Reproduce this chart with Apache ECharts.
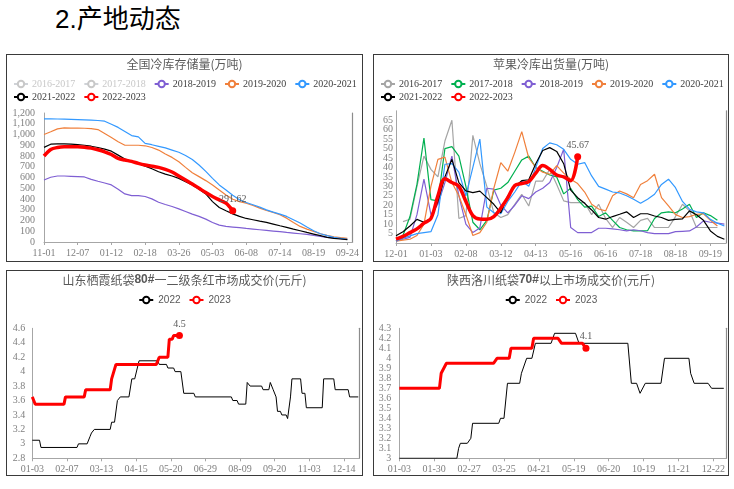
<!DOCTYPE html>
<html><head><meta charset="utf-8">
<script src="https://cdn.jsdelivr.net/npm/echarts@6/dist/echarts.min.js"></script>
<style>
html,body{margin:0;padding:0;background:#fff}
body{width:734px;height:489px;position:relative;overflow:hidden}
#h{position:absolute;left:55px;top:6px;font-size:26px;line-height:26px;font-family:"Liberation Sans","Noto Sans CJK SC",sans-serif;color:#000;white-space:nowrap}
.p{position:absolute;border:1px solid #3a3a3a;box-sizing:border-box;background:#fff}
.c{position:absolute;left:0;top:0}
</style></head><body>
<div id="h">2.产地动态</div>
<div class="p" style="left:6px;top:54px;width:357px;height:208px"><div class="c" id="c1" style="width:355px;height:206px"></div></div>
<div class="p" style="left:373px;top:54px;width:356px;height:208px"><div class="c" id="c2" style="width:354px;height:206px"></div></div>
<div class="p" style="left:6px;top:270px;width:357px;height:206px"><div class="c" id="c3" style="width:355px;height:204px"></div></div>
<div class="p" style="left:373px;top:270px;width:356px;height:206px"><div class="c" id="c4" style="width:354px;height:204px"></div></div>
<script>
// ---------- Panel 1: 全国冷库存储量 (weekly index, 5 per tick label) ----------
const P1_TICKS = ['11-01','12-07','01-12','02-18','03-26','05-03','06-08','07-14','08-19','09-24'];
const P1_1617 = [];
const P1_1718 = [];
const P1_1819 = [577,602,614,614,611,608,605,583,565,549,531,491,447,432,432,423,401,370,349,330,308,284,259,238,213,182,157,145,139,133,126,120,114,108,102,96,89,83,77,71,62,52,43,37,31,25];
const P1_1920 = [1000,1025,1052,1061,1060,1059,1058,1055,1046,1009,972,932,900,900,900,895,879,855,818,787,746,694,645,608,571,531,484,438,398,376,361,339,315,293,275,253,222,182,145,120,99,77,62,49,40,34];
const P1_2021 = [1145,1145,1144,1143,1141,1139,1136,1133,1130,1124,1095,1066,1028,990,978,918,905,890,875,855,835,805,768,716,657,592,531,484,435,392,367,346,324,299,278,259,238,207,176,139,105,77,59,43,34,25];
const P1_2122 = [880,910,913,912,910,905,900,891,879,864,845,808,771,750,731,706,682,654,632,614,592,561,531,491,447,376,321,290,262,238,219,207,194,182,167,151,136,120,105,89,74,59,43,34,28,22];
const P1_2223 = [800,861,879,885,885,885,882,873,858,839,814,777,762,750,731,716,706,694,676,651,614,577,540,500,460,423,392,361,291.62];

// ---------- Panel 2: 苹果冷库出货量 (weekly index, 5 per tick label) ----------
const P2_TICKS = ['12-01','01-03','02-08','03-12','04-13','05-16','06-16','07-18','08-18','09-19'];
const P2_1617 = [null,11.3,12.6,30,46,39,35,54,65,13,14.5,57,42,30,16,13.5,15,20.5,25.8,19.6,32.8,32.8,39,31,22.3,21.4,21.4,21.4,15,20.5,13,8.2,13.5,11,8.2,12,13,8.2,8.2,8.2,14,20.5,17,8.2,8.2,8.2,8.2,null];
const P2_1718 = [1,4,14,31,55.5,23,22.3,50,51,46,30,11,7,12,28,29,32,38,44,46,40,38,36,35,26,29,23,19,19.5,14,16,12,8.2,7,6.4,6.4,6.5,13,16,16.5,16,18,20.5,13.5,16,14.5,12,null];
const P2_1819 = [1,2,3,15,33.8,15,20.5,32,46,25,10,5.5,8,29,28.5,20,16,20,25,23.5,27,29,32,40,49.6,8.2,5.5,5.5,5.5,7.8,7.8,7.5,7,6.4,7,6.5,5.5,5,5,5,6,6.2,6.4,8.5,11.7,11,10.5,10];
const P2_1920 = [1,1.5,2,4,10,30,44.3,45.5,32,25,15,4,5.5,11,29,42.6,38,48,59,45,40,37.5,36.4,41,37,33.8,31.5,27,20.5,18,17,25,27.5,26,24,31,33,36.4,24,19.6,15,13.5,14,15.2,15.5,12,9,null];
const P2_2021 = [1,2.5,3.8,5,5.5,6,15,41.7,42,37.5,25,40,55,19,16,15.5,22,27,32.8,30,40,50,53,52,49.6,44.3,41.7,42.6,35.5,30,28.5,27,26.5,25,23.2,21,23.2,25.8,31,33.8,29.3,22,17.9,16.5,16,12.5,10.5,9];
const P2_2122 = [3.8,6,9,12.5,11,13,22,35,44.3,32,27.6,26.7,27.5,24,20.5,16,25,30,33,33.5,42,49,50.5,48.5,42,28,24,21,17.5,13.5,12.6,14,15.2,16.5,13.5,15.5,15.5,14.3,13.5,12,12.5,12.8,17,15,12,6.4,3.5,2];
const P2_2223 = [2,3.5,5.5,7.5,10.5,13,25,34,32,30,22,14.5,12.7,12.6,14,18.5,24,30.5,31.5,32.5,37,41,39,36,35,33,45.67];

// ---------- Panel 3: 山东栖霞 (trading-day index, 24 per tick label) ----------
const P3_TICKS = ['01-03','02-07','03-13','04-15','05-20','06-29','08-09','09-20','11-03','12-14'];
const P3_2022 = [[0,3.05],[5,3.05],[6,2.95],[31,2.95],[32,3.0],[38,3.0],[40,3.1],[41,3.15],[43,3.2],[54,3.2],[55,3.3],[57,3.3],[59,3.6],[60,3.6],[61,3.65],[67,3.65],[69,3.9],[71,3.9],[74,4.15],[87,4.15],[88,4.1],[93,4.1],[94,4.05],[98,4.05],[99,4.0],[103,4.0],[105,3.7],[112,3.7],[113,3.65],[138,3.65],[139,3.6],[142,3.6],[143,3.55],[148,3.55],[149,3.85],[150,3.85],[151,3.8],[159,3.8],[160,3.75],[164,3.75],[165,3.85],[166,3.85],[167,3.75],[169,3.65],[170,3.45],[172,3.45],[173,3.4],[176,3.4],[177,3.35],[179,3.65],[180,3.9],[186,3.9],[187,3.7],[189,3.7],[190,3.5],[201,3.5],[202,3.9],[209,3.9],[210,3.75],[219,3.75],[220,3.65],[226,3.65]];
const P3_2023 = [[0,3.65],[1,3.6],[2,3.55],[22,3.55],[23,3.65],[36,3.65],[37,3.75],[54,3.75],[55,3.9],[56,3.9],[58,4.1],[86,4.1],[88,4.2],[94,4.2],[95,4.45],[97,4.45],[98,4.5],[102,4.5]];

// ---------- Panel 4: 陕西洛川 (trading-day index, 20 per tick label) ----------
const P4_TICKS = ['01-03','01-30','02-27','03-25','04-21','05-19','06-20','10-19','11-21','12-22'];
const P4_2022 = [[0,3.0],[33,3.0],[34,3.1],[35,3.15],[39,3.15],[41,3.2],[42,3.35],[57,3.35],[58,3.4],[60,3.4],[62,3.75],[69,3.75],[70,3.85],[71,3.85],[73,4.0],[76,4.0],[78,4.15],[87,4.15],[89,4.25],[101,4.25],[103,4.15],[131,4.15],[133,3.75],[136,3.75],[138,3.65],[139,3.65],[141,3.75],[150,3.75],[152,4.0],[166,4.0],[167,3.85],[168,3.85],[169,3.75],[177,3.75],[179,3.7],[186,3.7]];
const P4_2023 = [[0,3.7],[23,3.7],[24,3.85],[25,3.85],[27,3.95],[54,3.95],[56,4.0],[63,4.0],[64,4.1],[76,4.1],[77,4.2],[91,4.2],[93,4.15],[105,4.15],[107,4.1]];

// ---------- shared styling ----------
const CJK = '"Noto Sans CJK SC", sans-serif';
const SERIF = '"Liberation Serif", serif';
const SANS = '"Liberation Sans", sans-serif';
const LBL = '#7f7f7f';
const AX = '#a6a6a6';
const C = {g:'#a5a5a5', gr:'#00b050', pu:'#7f5fd3', or:'#f0803c', bl:'#3399ff', bk:'#000000', rd:'#ff0000'};

function title(text, rich){
  return {text, left:'center', top:3, padding:0,
    textStyle:{fontFamily:CJK, fontSize:12, fontWeight:'normal', color:'#595959',
      rich: rich || {}}};
}
function xAxisOf(max, step, ticks){
  return {type:'value', min:0, max, interval:step,
    axisLine:{show:true, lineStyle:{color:AX}},
    axisTick:{show:true, length:3, lineStyle:{color:AX}},
    splitLine:{show:false},
    axisLabel:{showMaxLabel:false, margin:6, fontFamily:SERIF, fontSize:10, color:LBL,
      formatter: v => { const k = Math.round(v/step); return Math.abs(v/step-k)<1e-6 && ticks[k] ? ticks[k] : ''; }}};
}
function yAxesOf(min, max, step, fmt, margin){
  return [
    {type:'value', min, max, interval:step,
      axisLine:{show:true, lineStyle:{color:AX}}, axisTick:{show:false}, splitLine:{show:false},
      axisLabel:{margin, fontFamily:SERIF, fontSize:10, color:LBL, formatter:fmt}},
    {type:'value', position:'right', min, max, interval:step,
      axisLine:{show:true, lineStyle:{color:'#8c8c8c', width:1.2}}, axisTick:{show:false},
      splitLine:{show:false}, axisLabel:{show:false}}
  ];
}
function legendOf(names, top, extra){
  return Object.assign({data:names, top, left:6, padding:0, itemWidth:14, itemHeight:8, itemGap:8,
    icon:undefined, lineStyle:{width:2}, inactiveColor:'#c8c8c8',
    textStyle:{fontFamily:SERIF, fontSize:10, color:'#404040', padding:[0,0,0,-1]}}, extra||{});
}
function line(name, arr, color, width, smooth){
  return {type:'line', name, data:arr.map((v,i)=>[i,v]), showSymbol:false, symbol:'emptyCircle',
    smooth: smooth||false, connectNulls:false, color, lineStyle:{width, color}, silent:true};
}
function pairLine(name, arr, color, width){
  return {type:'line', name, data:arr, showSymbol:false, symbol:'emptyCircle',
    color, lineStyle:{width, color}, silent:true};
}
function endMark(x, y, text){
  return {symbol:'circle', symbolSize:7, silent:true,
    itemStyle:{color:C.rd},
    label:{show:true, position:'top', distance:3, fontFamily:SERIF, fontSize:10, color:'#595959', formatter:text},
    data:[{coord:[x,y], value:y}]};
}

// ---------- Chart 1 ----------
const ch1 = echarts.init(document.getElementById('c1'), null, {renderer:'canvas'});
const s1red = line('2022-2023', P1_2223, C.rd, 3.5, 0.3);
s1red.markPoint = endMark(P1_2223.length-1, P1_2223[P1_2223.length-1], String(P1_2223[P1_2223.length-1]));
ch1.setOption({
  animation:false,
  title: title('全国冷库存储量(万吨)'),
  legend:[
    legendOf(['2016-2017','2017-2018','2018-2019','2019-2020','2020-2021'], 24, {selected:{'2016-2017':false,'2017-2018':false}}),
    legendOf(['2021-2022','2022-2023'], 37)
  ],
  grid:{left:37, right:3.5, top:58, bottom:19},
  xAxis: xAxisOf(45.8, 5, P1_TICKS),
  yAxis: yAxesOf(0, 1200, 100, v => v.toLocaleString('en-US'), 9),
  series:[
    line('2016-2017', P1_1617, C.g, 1.2),
    line('2017-2018', P1_1718, C.gr, 1.2),
    line('2018-2019', P1_1819, C.pu, 1.2),
    line('2019-2020', P1_1920, C.or, 1.2),
    line('2020-2021', P1_2021, C.bl, 1.2),
    line('2021-2022', P1_2122, C.bk, 1.2),
    s1red
  ]
});

// ---------- Chart 2 ----------
const ch2 = echarts.init(document.getElementById('c2'), null, {renderer:'canvas'});
const s2red = line('2022-2023', P2_2223, C.rd, 3.5, 0.35);
s2red.markPoint = endMark(P2_2223.length-1, P2_2223[P2_2223.length-1], String(P2_2223[P2_2223.length-1]));
ch2.setOption({
  animation:false,
  title: title('苹果冷库出货量(万吨)'),
  legend:[
    legendOf(['2016-2017','2017-2018','2018-2019','2019-2020','2020-2021'], 24),
    legendOf(['2021-2022','2022-2023'], 37)
  ],
  grid:{left:22, right:2.2, top:55.8, bottom:18},
  xAxis: xAxisOf(47.2, 5, P2_TICKS),
  yAxis: yAxesOf(0, 70, 5, v => (v===0||v===70)?'':String(v), 3),
  series:[
    line('2016-2017', P2_1617, C.g, 1.2),
    line('2017-2018', P2_1718, C.gr, 1.2),
    line('2018-2019', P2_1819, C.pu, 1.2),
    line('2019-2020', P2_1920, C.or, 1.2),
    line('2020-2021', P2_2021, C.bl, 1.2),
    line('2021-2022', P2_2122, C.bk, 1.2),
    s2red
  ]
});

// ---------- Chart 3 ----------
const ch3 = echarts.init(document.getElementById('c3'), null, {renderer:'canvas'});
const s3red = pairLine('2023', P3_2023, C.rd, 3);
const p3last = P3_2023[P3_2023.length-1];
s3red.markPoint = endMark(p3last[0], p3last[1], String(p3last[1]));
ch3.setOption({
  animation:false,
  title: title('山东栖霞纸袋{b|80#}一二级条红市场成交价(元斤)', {b:{fontFamily:SANS, fontWeight:'bold', fontSize:12, color:'#595959'}}),
  legend: legendOf(['2022','2023'], 24, {left:'center', textStyle:{fontFamily:SANS, fontSize:10, color:'#595959'}}),
  grid:{left:25.3, right:3, top:57.3, bottom:16.7},
  xAxis: xAxisOf(226.5, 24, P3_TICKS),
  yAxis: yAxesOf(2.8, 4.6, 0.2, undefined, 7),
  series:[ pairLine('2022', P3_2022, C.bk, 1), s3red ]
});

// ---------- Chart 4 ----------
const ch4 = echarts.init(document.getElementById('c4'), null, {renderer:'canvas'});
const s4red = pairLine('2023', P4_2023, C.rd, 3);
const p4last = P4_2023[P4_2023.length-1];
s4red.markPoint = endMark(p4last[0], p4last[1], String(p4last[1]));
ch4.setOption({
  animation:false,
  title: title('陕西洛川纸袋{b|70#}以上市场成交价(元斤)', {b:{fontFamily:SANS, fontWeight:'bold', fontSize:12, color:'#595959'}}),
  legend: legendOf(['2022','2023'], 24, {left:'center', textStyle:{fontFamily:SANS, fontSize:10, color:'#595959'}}),
  grid:{left:25.3, right:2, top:57.3, bottom:16.7},
  xAxis: xAxisOf(187.2, 20, P4_TICKS),
  yAxis: yAxesOf(3, 4.3, 0.1, undefined, 8),
  series:[ pairLine('2022', P4_2022, C.bk, 1), s4red ]
});
</script>
</body></html>
